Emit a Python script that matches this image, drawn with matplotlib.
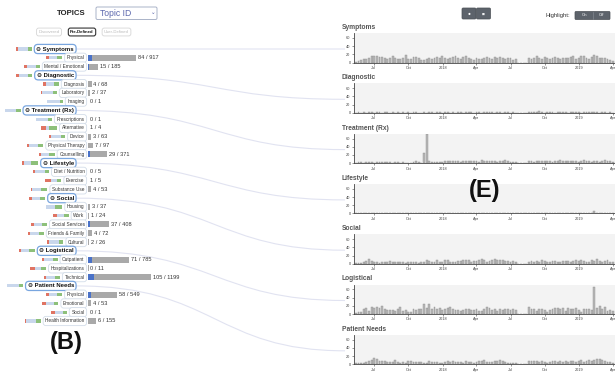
import numpy as np
import pandas as pd
import matplotlib
matplotlib.use('Agg')
import matplotlib.pyplot as plt
from matplotlib.patches import Rectangle, PathPatch, FancyBboxPatch
from matplotlib.path import Path

plt.rcParams['font.family'] = ['Liberation Sans', 'DejaVu Sans']

# ---- topic tree (left) ----
row_labels = ['Symptoms', 'Physical', 'Mental / Emotional',
              'Diagnostic', 'Diagnosis', 'Laboratory', 'Imaging',
              'Treatment (Rx)', 'Prescriptions', 'Alternative', 'Device', 'Physical Therapy', 'Counselling',
              'Lifestyle', 'Diet / Nutrition', 'Exercise', 'Substance Use',
              'Social', 'Housing', 'Work', 'Social Services', 'Friends & Family', 'Cultural',
              'Logistical', 'Outpatient', 'Hospitalizations', 'Technical',
              'Patient Needs', 'Physical', 'Emotional', 'Social', 'Health Information']
row_is_group = [True, False, False,
                True, False, False, False,
                True, False, False, False, False, False,
                True, False, False, False,
                True, False, False, False, False, False,
                True, False, False, False,
                True, False, False, False, False]
matched = [0, 84, 15,
           0, 4, 2, 0,
           0, 0, 1, 3, 7, 29,
           0, 0, 1, 4,
           0, 3, 1, 37, 4, 2,
           0, 71, 0, 105,
           0, 58, 4, 0, 6]
total = [0, 917, 185,
         0, 68, 37, 1,
         0, 1, 4, 63, 97, 371,
         0, 5, 5, 53,
         0, 37, 24, 408, 72, 26,
         0, 785, 11, 1199,
         0, 549, 53, 1, 155]
# sentiment split shown by the small strips next to each label
neg_share = [0.15, 0.15, 0.2, 0.15, 0.2, 0.1, 0.0, 0.0, 0.0, 0.3, 0.1, 0.1, 0.15, 0.1, 0.1, 0.35,
             0.05, 0.15, 0.0, 0.25, 0.2, 0.15, 0.1, 0.15, 0.15, 0.3, 0.15, 0.0, 0.2, 0.2, 0.25, 0.1]
neu_share = [0.6, 0.55, 0.55, 0.6, 0.5, 0.65, 0.8, 0.7, 0.75, 0.2, 0.65, 0.6, 0.5, 0.45, 0.65, 0.4,
             0.55, 0.55, 0.55, 0.45, 0.5, 0.55, 0.6, 0.5, 0.55, 0.4, 0.55, 0.75, 0.5, 0.5, 0.5, 0.6]
pos_share = [0.25, 0.3, 0.25, 0.25, 0.3, 0.25, 0.2, 0.3, 0.25, 0.5, 0.25, 0.3, 0.35, 0.45, 0.25, 0.25,
             0.4, 0.3, 0.45, 0.3, 0.3, 0.3, 0.3, 0.35, 0.3, 0.3, 0.3, 0.25, 0.3, 0.3, 0.25, 0.3]

# ---- weekly mention counts (right) ----
week_start = '2017-05-14'
panel_titles = ['Symptoms', 'Diagnostic', 'Treatment (Rx)', 'Lifestyle', 'Social', 'Logistical', 'Patient Needs']
symptoms = [2, 4, 6, 8, 9, 12, 15, 16, 15, 14,
            13, 11, 8, 10, 17, 10, 9, 8, 11, 18,
            9, 8, 14, 13, 10, 7, 6, 9, 12, 8,
            10, 13, 12, 15, 11, 8, 12, 14, 16, 10,
            9, 13, 15, 12, 8, 7, 10, 9, 8, 11,
            14, 12, 9, 13, 12, 14, 11, 8, 12, 11,
            7, 9, 0, 0, 0, 0, 10, 8, 12, 15,
            12, 9, 14, 11, 8, 12, 13, 10, 9, 12,
            11, 10, 13, 15, 9, 12, 15, 16, 11, 9,
            13, 18, 15, 12, 10, 11, 9, 6, 3]
diagnostic = [0, 1, 0, 1, 0, 2, 1, 0, 1, 1,
              0, 1, 2, 0, 1, 0, 1, 0, 1, 0,
              1, 0, 1, 1, 0, 0, 1, 0, 2, 1,
              0, 1, 1, 0, 1, 1, 0, 1, 0, 1,
              1, 0, 1, 2, 1, 0, 1, 1, 0, 1,
              1, 2, 1, 0, 1, 1, 0, 1, 1, 0,
              1, 0, 0, 0, 0, 0, 1, 1, 2, 3,
              4, 1, 0, 1, 2, 1, 0, 1, 1, 2,
              1, 0, 1, 2, 1, 1, 0, 1, 2, 1,
              1, 2, 1, 0, 1, 1, 0, 1, 0]
treatment = [1, 2, 3, 0, 2, 3, 2, 1, 2, 3,
             2, 2, 3, 2, 1, 3, 2, 0, 2, 1,
             0, 0, 3, 4, 2, 1, 25, 70, 5, 3,
             2, 2, 3, 2, 6, 5, 5, 4, 6, 5,
             3, 6, 5, 4, 5, 6, 4, 3, 7, 6,
             5, 4, 6, 5, 3, 5, 6, 7, 4, 2,
             3, 2, 0, 0, 0, 0, 4, 5, 3, 5,
             4, 5, 4, 6, 5, 3, 5, 6, 7, 4,
             5, 6, 4, 5, 6, 3, 5, 7, 6, 4,
             2, 6, 5, 3, 5, 7, 4, 6, 3]
lifestyle = [0, 0, 1, 0, 1, 0, 0, 1, 0, 1,
             0, 1, 0, 0, 1, 0, 1, 0, 0, 1,
             0, 1, 0, 1, 0, 0, 1, 2, 1, 0,
             1, 1, 2, 1, 0, 1, 0, 1, 1, 0,
             1, 0, 1, 1, 0, 1, 1, 0, 1, 0,
             1, 0, 1, 1, 0, 1, 0, 1, 1, 0,
             1, 0, 0, 0, 0, 0, 1, 0, 1, 1,
             0, 1, 1, 0, 1, 0, 1, 1, 0, 1,
             1, 0, 1, 1, 0, 1, 1, 2, 1, 0,
             1, 5, 1, 2, 1, 0, 1, 1, 0]
social = [1, 1, 2, 4, 7, 11, 6, 4, 3, 2,
          5, 4, 3, 6, 5, 3, 4, 5, 3, 2,
          4, 3, 5, 4, 2, 3, 4, 8, 6, 5,
          3, 9, 4, 5, 8, 9, 3, 4, 5, 7,
          6, 9, 10, 8, 4, 6, 7, 9, 11, 8,
          5, 6, 8, 12, 9, 10, 8, 7, 6, 5,
          6, 5, 0, 0, 0, 0, 4, 6, 5, 7,
          5, 8, 6, 4, 5, 7, 6, 5, 4, 6,
          7, 6, 5, 7, 8, 6, 9, 7, 5, 4,
          8, 6, 11, 7, 5, 6, 8, 5, 3]
logistical = [3, 5, 6, 12, 14, 8, 16, 14, 17, 15,
              20, 11, 10, 10, 10, 8, 11, 17, 8, 10,
              5, 6, 11, 10, 11, 12, 24, 14, 25, 12,
              16, 13, 15, 10, 13, 14, 16, 12, 10, 9,
              8, 10, 12, 11, 9, 10, 11, 8, 7, 12,
              18, 14, 10, 11, 8, 13, 9, 12, 11, 10,
              12, 9, 0, 0, 0, 0, 18, 13, 12, 7,
              12, 11, 9, 6, 10, 12, 14, 15, 11, 14,
              8, 15, 12, 13, 14, 10, 6, 11, 12, 13,
              10, 65, 15, 20, 13, 17, 8, 9, 8]
patient_needs = [2, 3, 2, 3, 5, 8, 10, 16, 12, 9,
                 8, 7, 6, 5, 6, 10, 6, 4, 5, 4,
                 8, 7, 6, 5, 6, 5, 3, 4, 8, 6,
                 5, 5, 3, 4, 6, 8, 5, 9, 5, 6,
                 5, 4, 9, 6, 5, 3, 6, 7, 9, 10,
                 6, 5, 5, 7, 9, 10, 8, 5, 4, 3,
                 4, 2, 0, 0, 0, 0, 8, 7, 9, 8,
                 5, 9, 6, 4, 6, 9, 7, 5, 8, 6,
                 7, 5, 9, 8, 6, 7, 10, 6, 9, 11,
                 7, 10, 12, 14, 10, 8, 6, 5, 3]
panel_series = [symptoms, diagnostic, treatment, lifestyle, social, logistical, patient_needs]
tick_dates = ['2017-07-01', '2017-10-01', '2018-01-01', '2018-04-01',
              '2018-07-01', '2018-10-01', '2019-01-01', '2019-04-01']
tick_labels = ['Jul', 'Oct', '2018', 'Apr', 'Jul', 'Oct', '2019', 'Apr']

W, H = 615, 373
fig = plt.figure(figsize=(W / 100, H / 100), dpi=100)
canvas = fig.add_axes([0, 0, 1, 1])
canvas.set_xlim(0, W)
canvas.set_ylim(H, 0)
canvas.axis('off')

n_rows = len(row_labels)
ROW0, STEP = 49, 8.774
row_y = ROW0 + STEP * np.arange(n_rows)
is_group = np.array(row_is_group)
matched = np.array(matched)
total = np.array(total)

# header
canvas.text(71, 13.5, 'TOPICS', ha='center', va='center', fontsize=5.6, fontweight='bold', color='#222')
canvas.add_patch(FancyBboxPatch((96, 7), 61, 12.5, boxstyle='round,pad=0,rounding_size=1.5',
                                fc='white', ec='#aab3c8', lw=0.7))
canvas.text(100, 13.5, 'Topic ID', ha='left', va='center', fontsize=6.2, color='#5b67ad')
canvas.text(153, 13, '⌄', ha='center', va='center', fontsize=4, color='#5b67ad')
for txt, cx, active in [('Discovered', 49, False), ('Pre-Defined', 82, True), ('User-Defined', 116.5, False)]:
    canvas.text(cx, 32, txt, ha='center', va='center', fontsize=3.1,
                fontweight='bold' if active else 'normal',
                color='#111' if active else '#bbbbbb',
                bbox=dict(boxstyle='round,pad=0.45,rounding_size=0.5', fc='white',
                          ec='#333' if active else '#d6d6d6', lw=0.8 if active else 0.6))

# curves from each group to its weekly panel
panel_top = 33 + 50.3 * np.arange(len(panel_titles))
group_rows = np.where(is_group)[0]
for g, top in zip(group_rows, panel_top):
    y0, y1 = row_y[g], top + 16
    verts = [(76, y0), (215, y0), (215, y1), (345, y1)]
    path = Path(verts, [Path.MOVETO, Path.CURVE4, Path.CURVE4, Path.CURVE4])
    canvas.add_patch(PathPatch(path, fc='none', ec='#e1e3f1', lw=0.8, zorder=0))

# row labels
label_texts = []
for i, lab in enumerate(row_labels):
    if is_group[i]:
        t = canvas.text(74, row_y[i], '⊖ ' + lab, ha='right', va='center', fontsize=4.3,
                        fontweight='bold', color='#111',
                        bbox=dict(boxstyle='round,pad=0.35,rounding_size=0.6', fc='white', ec='#79a6df', lw=0.9))
    else:
        t = canvas.text(84.5, row_y[i], lab, ha='right', va='center', fontsize=3.4, color='#333',
                        bbox=dict(boxstyle='round,pad=0.45,rounding_size=0.6', fc='white', ec='#d3dde9', lw=0.6))
    label_texts.append(t)

fig.canvas.draw()
renderer = fig.canvas.get_renderer()
STRIP_W = 16
for i, t in enumerate(label_texts):
    bb = t.get_bbox_patch().get_window_extent(renderer)
    x = bb.x0 - 2.5 - STRIP_W
    for share, col in [(neg_share[i], '#e07463'), (neu_share[i], '#c9d7ec'), (pos_share[i], '#8dc07a')]:
        canvas.add_patch(Rectangle((x, row_y[i] - 1.6), share * STRIP_W, 3.2, fc=col, ec='none'))
        x += share * STRIP_W

# count bars
PX_PER_COUNT = 0.0525
bx_left, bx_w = 88, 100
bar_ax = fig.add_axes([bx_left / W, 1 - (row_y[-1] + STEP / 2) / H, bx_w / W, n_rows * STEP / H])
bar_ax.set_xlim(0, bx_w / PX_PER_COUNT)
bar_ax.set_ylim(n_rows - 0.5, -0.5)
bar_ax.axis('off')
bar_ax.patch.set_alpha(0)
sub = np.where(~is_group)[0]
bar_ax.barh(sub, total[sub], height=0.68, color='#a9a9a9')
bar_ax.barh(sub, matched[sub], height=0.68, color='#4a72c8')
for i in sub:
    bar_ax.text(total[i] + 35, i, f'{matched[i]} / {total[i]}', va='center', ha='left',
                fontsize=4.1, color='#333')

# top right controls
for x0 in (462, 476.5):
    canvas.add_patch(FancyBboxPatch((x0, 8), 14, 11, boxstyle='round,pad=0,rounding_size=1.2',
                                    fc='#5d636b', ec='#4a4f55', lw=0.5))
canvas.text(469, 13.5, '●', ha='center', va='center', fontsize=3.5, color='white')
canvas.text(483.5, 13.5, '▮▮', ha='center', va='center', fontsize=2.5, color='white')
canvas.text(545, 16, 'Highlight:', ha='left', va='center', fontsize=4.2, color='#333')
canvas.add_patch(FancyBboxPatch((575, 11.5), 35, 8, boxstyle='round,pad=0,rounding_size=1',
                                fc='#5d636b', ec='#4a4f55', lw=0.5))
canvas.plot([592.5, 592.5], [12, 19], color='#8a9098', lw=0.4)
canvas.text(584, 15.5, 'On', ha='center', va='center', fontsize=3, color='white')
canvas.text(601, 15.5, 'Off', ha='center', va='center', fontsize=3, color='white')

# weekly panels
xmin, xmax = pd.Timestamp('2017-05-09'), pd.Timestamp('2019-04-06')
PANEL_H = 29.5
for title, vals, top in zip(panel_titles, panel_series, panel_top):
    ax = fig.add_axes([354 / W, 1 - (top + PANEL_H) / H, 261 / W, PANEL_H / H])
    dates = pd.date_range(week_start, periods=len(vals), freq='7D')
    ax.bar(dates, vals, width=5, color='#b8b8b8', edgecolor='#8e8e8e', linewidth=0.3)
    ax.set_facecolor('#f3f3f3')
    ax.set_xlim(xmin, xmax)
    ax.set_ylim(0, 72)
    ax.set_yticks([0, 20, 40, 60])
    ax.set_xticks(pd.to_datetime(tick_dates))
    ax.set_xticklabels(tick_labels)
    ax.tick_params(labelsize=2.8, length=1.5, width=0.4, pad=1, colors='#444')
    for s in ('top', 'right'):
        ax.spines[s].set_visible(False)
    for s in ('left', 'bottom'):
        ax.spines[s].set_color('#444')
        ax.spines[s].set_linewidth(0.6)
    canvas.text(342, top - 5.5, title, ha='left', va='center', fontsize=4.8,
                fontweight='bold', color='#555')

# panel tags drawn on top of every axes
fig.text(66 / W, 1 - 343 / H, '(B)', ha='center', va='center', fontsize=17,
         fontweight='bold', color='#111', zorder=10)
fig.text(485 / W, 1 - 190 / H, '(E)', ha='center', va='center', fontsize=17,
         fontweight='bold', color='#111', zorder=10)

fig.savefig('out.png', dpi=100)
